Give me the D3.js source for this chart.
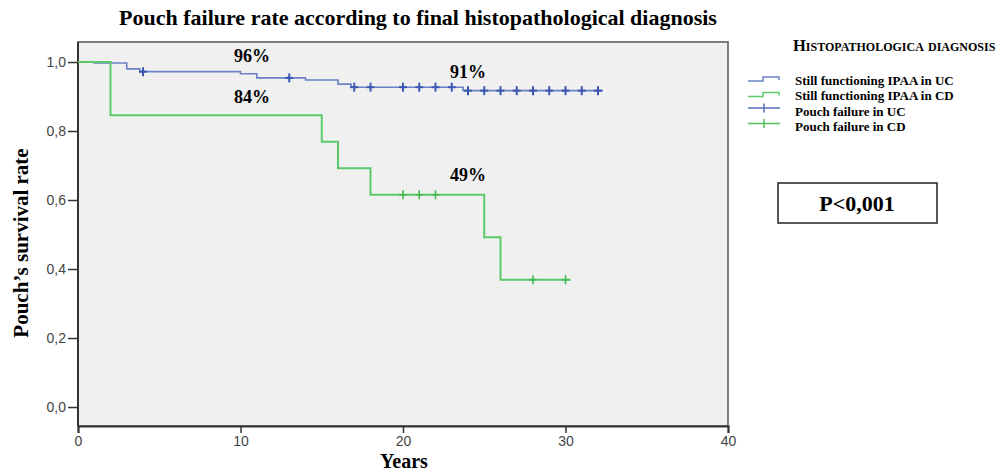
<!DOCTYPE html>
<html>
<head>
<meta charset="utf-8">
<script src="https://cdn.jsdelivr.net/npm/d3@7"></script>
<style>
  body { margin: 0; background: #fff; }
  .serif { font-family: "Liberation Serif", "Times New Roman", serif; font-weight: bold; }
  .tick text { font-family: "Liberation Sans", Arial, sans-serif; font-size: 14px; fill: #444; }
</style>
</head>
<body>
<svg width="1003" height="473"></svg>
<script>
// survival steps (time in years, survival rate after that time)
const ucTimes = [0, 1, 3, 3.8, 10, 11, 14, 16, 16.8, 23.7]
const ucValues = [1, 0.997, 0.98, 0.972, 0.966, 0.954, 0.948, 0.936, 0.927, 0.917]
const ucEnd = 32.3
const ucCensored = [4, 13, 17, 18, 20, 21, 22, 23, 24, 25, 26, 27, 28, 29, 30, 31, 32]

const cdTimes = [0, 2, 15, 16, 18, 25, 26]
const cdValues = [1, 0.846, 0.769, 0.692, 0.615, 0.492, 0.369]
const cdEnd = 30.3
const cdCensored = [20, 21, 22, 28, 30]

const xTicks = [0, 10, 20, 30, 40]
const yTicks = [0, 0.2, 0.4, 0.6, 0.8, 1.0]

const annotations = [
  { text: '96%', t: 10.7, v: 1.0 },
  { text: '84%', t: 10.7, v: 0.88 },
  { text: '91%', t: 24, v: 0.955 },
  { text: '49%', t: 24, v: 0.655 }
]

const legendItems = [
  { label: 'Still functioning IPAA in UC', color: '#6a80c6', type: 'step' },
  { label: 'Still functioning IPAA in CD', color: '#5bc96a', type: 'step' },
  { label: 'Pouch failure in UC', color: '#5a70c0', type: 'cross' },
  { label: 'Pouch failure in CD', color: '#4fc25e', type: 'cross' }
]

const blue = '#6a80c6'
const blueMark = '#3b57b2'
const green = '#5bc96a'

const svg = d3.select('svg')
const plot = { left: 78, right: 728, top: 42, bottom: 426 }

const x = d3.scaleLinear().domain([0, 40]).range([plot.left, plot.right])
const y = d3.scaleLinear().domain([-0.055, 1.058]).range([plot.bottom, plot.top])

// title
svg.append('text')
  .attr('class', 'serif')
  .attr('x', 418)
  .attr('y', 25)
  .attr('text-anchor', 'middle')
  .style('font-size', '22px')
  .text('Pouch failure rate according to final histopathological diagnosis')

// plot background
svg.append('rect')
  .attr('x', plot.left)
  .attr('y', plot.top)
  .attr('width', plot.right - plot.left)
  .attr('height', plot.bottom - plot.top)
  .attr('fill', '#f0f0f0')
  .attr('stroke', '#555')
  .attr('stroke-width', 1.5)

const locale = d3.formatLocale({ decimal: ',', thousands: '.', grouping: [3], currency: ['', ''] })

svg.append('g')
  .attr('class', 'x axis')
  .attr('transform', 'translate(0,' + plot.bottom + ')')
  .call(d3.axisBottom(x).tickValues(xTicks).tickSize(7).tickPadding(3).tickFormat(d3.format('d')))
  .call(g => g.select('.domain').attr('stroke', '#333').attr('stroke-width', 2))
  .call(g => g.selectAll('.tick line').attr('stroke', '#333').attr('stroke-width', 1.5))

svg.append('g')
  .attr('class', 'y axis')
  .attr('transform', 'translate(' + plot.left + ',0)')
  .call(d3.axisLeft(y).tickValues(yTicks).tickSize(10).tickPadding(2).tickFormat(locale.format('.1f')))
  .call(g => g.select('.domain').remove())
  .call(g => g.selectAll('.tick line').attr('stroke', '#333').attr('stroke-width', 1.5))

svg.append('line')
  .attr('x1', plot.left).attr('x2', plot.left)
  .attr('y1', plot.top).attr('y2', plot.bottom)
  .attr('stroke', '#333').attr('stroke-width', 2)

// axis labels
svg.append('text')
  .attr('class', 'serif')
  .attr('transform', 'translate(28,243) rotate(-90)')
  .attr('text-anchor', 'middle')
  .style('font-size', '21px')
  .text('Pouch\u2019s survival rate')

svg.append('text')
  .attr('class', 'serif')
  .attr('x', 404)
  .attr('y', 468)
  .attr('text-anchor', 'middle')
  .style('font-size', '20px')
  .text('Years')

// survival curves
const line = d3.line()
  .x(d => x(d[0]))
  .y(d => y(d[1]))
  .curve(d3.curveStepAfter)

function curvePoints (times, values, end) {
  const pts = times.map((t, i) => [t, values[i]])
  pts.push([end, values[values.length - 1]])
  return pts
}

function valueAt (times, values, t) {
  let v = values[0]
  times.forEach((tt, i) => { if (tt <= t) v = values[i] })
  return v
}

svg.append('path')
  .attr('d', line(curvePoints(ucTimes, ucValues, ucEnd)))
  .attr('fill', 'none')
  .attr('stroke', blue)
  .attr('stroke-width', 1.6)

svg.append('path')
  .attr('d', line(curvePoints(cdTimes, cdValues, cdEnd)))
  .attr('fill', 'none')
  .attr('stroke', green)
  .attr('stroke-width', 2)

function drawCensored (times, values, censored, color, w) {
  const g = svg.append('g')
  censored.forEach(t => {
    const cx = x(t)
    const cy = y(valueAt(times, values, t))
    g.append('line')
      .attr('x1', cx).attr('x2', cx)
      .attr('y1', cy - 4.5).attr('y2', cy + 4.5)
      .attr('stroke', color).attr('stroke-width', w)
    g.append('line')
      .attr('x1', cx - 4).attr('x2', cx + 4)
      .attr('y1', cy).attr('y2', cy)
      .attr('stroke', color).attr('stroke-width', w)
  })
}

drawCensored(ucTimes, ucValues, ucCensored, blueMark, 2)
drawCensored(cdTimes, cdValues, cdCensored, '#45b855', 1.6)

// percentage annotations
svg.selectAll('.annot')
  .data(annotations)
  .enter()
  .append('text')
  .attr('class', 'serif annot')
  .attr('x', d => x(d.t))
  .attr('y', d => y(d.v))
  .attr('text-anchor', 'middle')
  .style('font-size', '18px')
  .text(d => d.text)

// legend
const legend = svg.append('g').attr('transform', 'translate(748,0)')

legend.append('text')
  .attr('class', 'serif')
  .attr('x', 45)
  .attr('y', 51)
  .style('font-size', '16.5px')
  .style('font-variant', 'small-caps')
  .text('Histopathologica diagnosis')

legendItems.forEach((d, i) => {
  const cy = 80 + i * 15.5
  const sy = cy - 1 - (i >= 2 ? 2 : 0)
  if (d.type === 'step') {
    legend.append('path')
      .attr('d', 'M0,' + (sy + 2) + 'H15V' + (sy - 2) + 'H31V' + (sy + 1))
      .attr('fill', 'none')
      .attr('stroke', d.color)
      .attr('stroke-width', 1.5)
  } else {
    legend.append('path')
      .attr('d', 'M0,' + sy + 'H32M16,' + (sy - 4.5) + 'V' + (sy + 4.5))
      .attr('fill', 'none')
      .attr('stroke', d.color)
      .attr('stroke-width', 1.5)
  }
  legend.append('text')
    .attr('class', 'serif')
    .attr('x', 47)
    .attr('y', cy + 4.5)
    .style('font-size', '13px')
    .text(d.label)
})

// p-value box
svg.append('rect')
  .attr('x', 778)
  .attr('y', 183)
  .attr('width', 159)
  .attr('height', 40)
  .attr('fill', '#fff')
  .attr('stroke', '#222')
  .attr('stroke-width', 1.5)

svg.append('text')
  .attr('class', 'serif')
  .attr('x', 857)
  .attr('y', 211)
  .attr('text-anchor', 'middle')
  .style('font-size', '22px')
  .text('P<0,001')
</script>
</body>
</html>
